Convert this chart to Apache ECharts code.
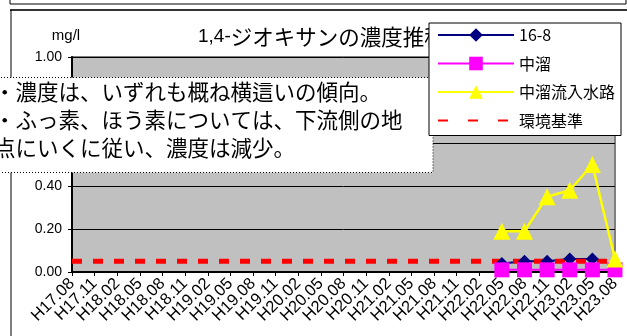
<!DOCTYPE html>
<html>
<head>
<meta charset="utf-8">
<script src="https://cdn.jsdelivr.net/npm/echarts@6/dist/echarts.min.js"></script>
<style>
  html, body { margin: 0; padding: 0; background: #fff; }
  #chart { width: 627px; height: 336px; }
</style>
</head>
<body>
<div id="chart"></div>
<script>
// 調査時期
var categories = ['H17.08', 'H17.11', 'H18.02', 'H18.05', 'H18.08', 'H18.11',
  'H19.02', 'H19.05', 'H19.08', 'H19.11', 'H20.02', 'H20.05', 'H20.08', 'H20.11',
  'H21.02', 'H21.05', 'H21.08', 'H21.11', 'H22.02', 'H22.05', 'H22.08', 'H22.11',
  'H23.02', 'H23.05', 'H23.08']
// 測定はH22.05から
var empty = [null, null, null, null, null, null, null, null, null, null,
  null, null, null, null, null, null, null, null, null]
var s168 = empty.concat([0.04, 0.05, 0.05, 0.06, 0.06, null])
var nakadame = empty.concat([0.01, 0.01, 0.01, 0.01, 0.01, 0.01])
var inflow = empty.concat([0.19, 0.19, 0.35, 0.38, 0.50, 0.06])
var standard = [0.05, 0.05, 0.05, 0.05, 0.05, 0.05, 0.05, 0.05, 0.05, 0.05,
  0.05, 0.05, 0.05, 0.05, 0.05, 0.05, 0.05, 0.05, 0.05, 0.05, 0.05, 0.05,
  0.05, 0.05, 0.05]
var yTicks = { min: 0, max: 1.0, interval: 0.2 }
var notes = ['・濃度は、いずれも概ね横這いの傾向。',
  '・ふっ素、ほう素については、下流側の地',
  '点にいくに従い、濃度は減少。']

var latin = 'Liberation Sans, Arial, Noto Sans CJK JP, sans-serif'
var cjk = 'Noto Sans CJK JP, sans-serif'

var chart = echarts.init(document.getElementById('chart'))
var option = {
  backgroundColor: '#fff',
  animation: false,
  title: {
    text: '{a|1,4-}{b|ジオキサンの濃度推移}',
    left: 193,
    top: 21,
    textStyle: {
      fontWeight: 'normal',
      rich: {
        a: { fontFamily: latin, fontSize: 19, fontWeight: 'normal', color: '#000' },
        b: { fontFamily: cjk, fontSize: 21.5, fontWeight: 'normal', color: '#000' }
      }
    }
  },
  legend: {
    orient: 'vertical',
    left: 429,
    top: 23,
    z: 100,
    data: [
      { name: '16-8' },
      { name: '中溜' },
      { name: '中溜流入水路' },
      { name: '環境基準', itemStyle: { opacity: 0 }, lineStyle: { type: [10, 20] } }
    ],
    itemWidth: 76,
    itemHeight: 17,
    itemGap: 12.5,
    padding: [4, 6, 7, 8],
    backgroundColor: '#fff',
    borderColor: '#000',
    borderWidth: 1,
    borderRadius: 0,
    textStyle: { fontFamily: cjk, fontSize: 16, color: '#000' }
  },
  grid: {
    left: 72,
    right: 12,
    top: 57,
    bottom: 64,
    show: true,
    backgroundColor: '#c0c0c0',
    borderColor: '#808080',
    borderWidth: 2
  },
  xAxis: {
    type: 'category',
    data: categories,
    boundaryGap: false,
    axisLine: { lineStyle: { color: '#000', width: 2 } },
    axisTick: { interval: 0, length: 4, lineStyle: { color: '#000' } },
    axisLabel: {
      interval: 0,
      rotate: 45,
      margin: 9,
      fontFamily: latin,
      fontSize: 16.5,
      color: '#000'
    },
    splitLine: { show: false }
  },
  yAxis: {
    type: 'value',
    min: yTicks.min,
    max: yTicks.max,
    interval: yTicks.interval,
    name: 'mg/l',
    nameLocation: 'end',
    nameGap: 14,
    nameTextStyle: { fontFamily: latin, fontSize: 15, color: '#000', padding: [0, 12, 0, 0] },
    axisLine: { show: true, lineStyle: { color: '#000', width: 2 } },
    axisTick: { show: true, length: 4, lineStyle: { color: '#000' } },
    axisLabel: {
      margin: 10,
      fontFamily: latin,
      fontSize: 14,
      color: '#000',
      formatter: function (v) { return v.toFixed(2) }
    },
    splitLine: { lineStyle: { color: '#000', width: 1 } }
  },
  graphic: [
    // 上の枠
    { type: 'polyline', z: 1, shape: { points: [[10, 0], [10, 4], [626, 4], [626, 0]] },
      style: { fill: null, stroke: '#000', lineWidth: 1 } },
    // グラフの枠
    { type: 'line', z: 1, shape: { x1: 10, y1: 10, x2: 627, y2: 10 },
      style: { stroke: '#333', lineWidth: 2 } },
    { type: 'line', z: 1, shape: { x1: 11, y1: 10, x2: 11, y2: 336 },
      style: { stroke: '#000', lineWidth: 1 } },
    // コメント欄
    {
      type: 'group',
      z: 50,
      children: [
        { type: 'rect', z: 50, shape: { x: -5, y: 77.5, width: 438, height: 95 },
          style: { fill: '#fff', stroke: '#000', lineWidth: 1, lineDash: [1, 2] } },
        { type: 'text', z: 51, x: -6, y: 78,
          style: { text: notes.join('\n'), fontFamily: cjk, fontSize: 21.5, lineHeight: 28, fill: '#000' } }
      ]
    }
  ],
  series: [
    {
      name: '16-8',
      type: 'line',
      data: s168,
      symbol: 'diamond',
      symbolSize: 13,
      color: '#000080',
      lineStyle: { color: '#000080', width: 2 },
      itemStyle: { color: '#000080' }
    },
    {
      name: '中溜',
      type: 'line',
      data: nakadame,
      symbol: 'rect',
      symbolSize: 15,
      color: '#ff00ff',
      lineStyle: { color: '#ff00ff', width: 2 },
      itemStyle: { color: '#ff00ff' }
    },
    {
      name: '中溜流入水路',
      type: 'line',
      data: inflow,
      symbol: 'triangle',
      symbolSize: 17,
      color: '#ffff00',
      lineStyle: { color: '#ffff00', width: 2.5 },
      itemStyle: { color: '#ffff00' }
    },
    {
      name: '環境基準',
      type: 'line',
      data: standard,
      symbol: 'none',
      color: '#ff0000',
      lineStyle: { color: '#ff0000', width: 5, type: [10, 11] }
    }
  ]
}
chart.setOption(option)
</script>
</body>
</html>
